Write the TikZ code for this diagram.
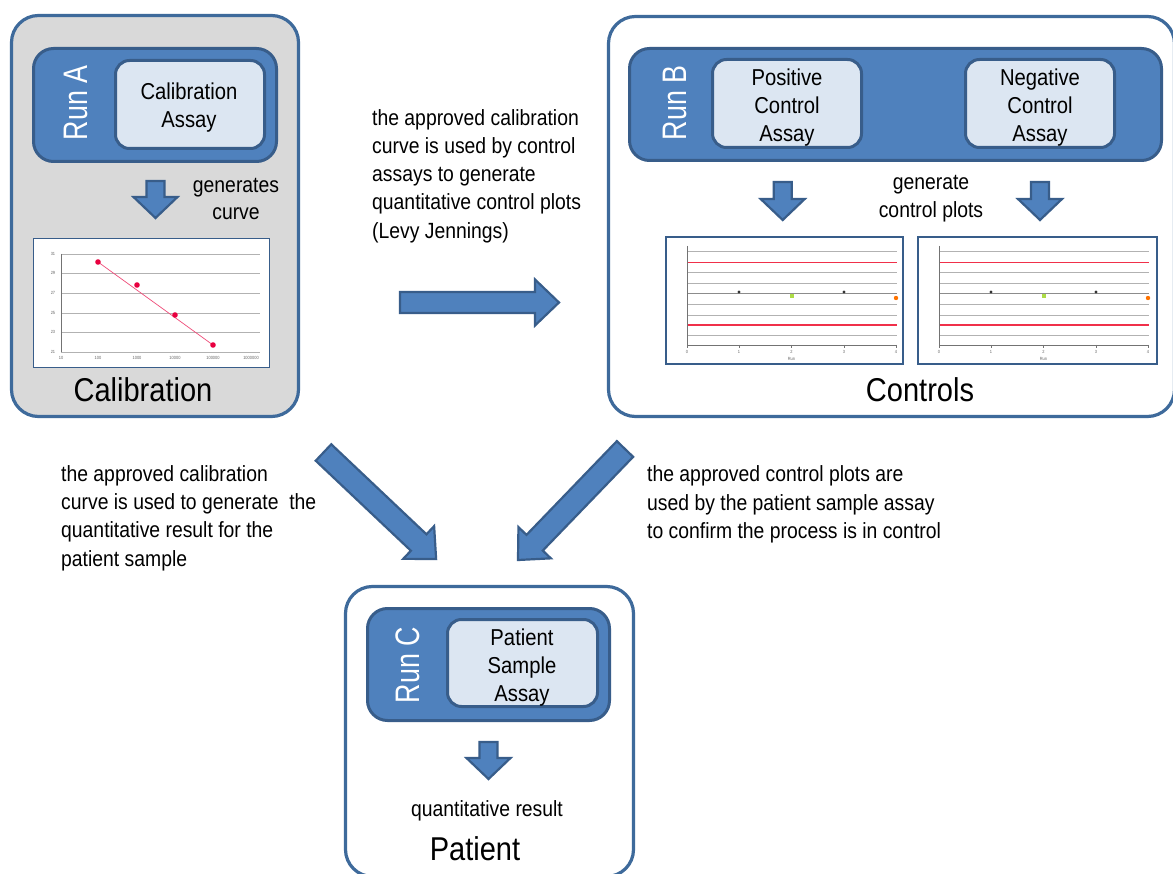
\documentclass[tikz,border=0pt]{standalone}
\usepackage{fontspec}
\setmainfont{Liberation Sans}[FakeStretch=0.88]
\newfontfamily\runfont{Liberation Sans}[FakeStretch=0.79]
\definecolor{bluefill}{HTML}{4F81BD}
\definecolor{blueline}{HTML}{385D8A}
\definecolor{outline}{HTML}{3E6A9B}
\definecolor{lightfill}{HTML}{DCE6F2}
\definecolor{grayfill}{HTML}{D9D9D9}
\definecolor{plotred}{HTML}{F0304A}
\definecolor{ptred}{HTML}{E8003F}
\tikzset{
  outerbox/.style={draw=outline, line width=3.2pt, rounded corners=27pt},
  runbox/.style={draw=blueline, fill=bluefill, line width=3pt, rounded corners=20pt},
  assaybox/.style={draw=blueline, fill=lightfill, line width=3pt, rounded corners=14pt, inner sep=0pt},
  assaytext/.style={align=center, font=\fontsize{23}{28}\selectfont, inner sep=0pt},
  runlabel/.style={rotate=90, text=white, font=\runfont\fontsize{34}{34}\selectfont, inner sep=0pt},
  chartframe/.style={draw=blueline, line width=1.3pt, fill=white, inner sep=0pt},
  blockarrow/.style={fill=bluefill, draw=blueline, line width=2.2pt, line join=miter},
  desc/.style={align=left, font=\fontsize{22}{28.3}\selectfont, inner sep=0pt},
  cdesc/.style={align=center, font=\fontsize{22}{27.5}\selectfont, inner sep=0pt},
  biglabel/.style={font=\fontsize{33}{33}\selectfont, inner sep=0pt},
  gridl/.style={draw=black!30, line width=0.8pt},
  redl/.style={draw=plotred, line width=1.3pt},
  axisl/.style={draw=black!55, line width=0.7pt},
  ticklab/.style={font=\fontsize{4.5}{5}\selectfont, text=black!60, inner sep=0pt},
}
\newcommand{\blockarr}[7]{%
  \draw[blockarrow, shift={(#1,-#2)}, rotate=#3]
    (0,-#5) -- (#4-#7,-#5) -- (#4-#7,-#6) -- (#4,0) -- (#4-#7,#6) -- (#4-#7,#5) -- (0,#5) -- cycle;}
\newcommand{\ctlplot}[2]{%
  \begin{scope}[xshift=#1pt]
    \foreach \yy in {251.7,272.7,283.3,304.3,315,335} \draw[gridl] (687,-\yy) -- (897,-\yy);
    \draw[gridl, draw=black!45] (687,-293.7) -- (897,-293.7);
    \foreach \yy in {262.3,325} \draw[redl] (687,-\yy) -- (897,-\yy);
    \draw[axisl] (687,-246) -- (687,-345) -- (897,-345);
    \foreach \xx/\lab in {687/0,739/1,791.5/2,844/3,896/4} {
      \draw[axisl] (\xx,-345) -- (\xx,-348);
      \node[ticklab] (#2x\lab) at (\xx,-352) {\lab};}
    \node[ticklab] (#2run) at (791.5,-359) {Run};
    \fill[black!80] (739,-292) circle (1.6);
    \fill[black!80] (844,-292) circle (1.6);
    \fill[yellow!60!green!80] (789.5,-298) rectangle (793.5,-294);
    \fill[orange!90!red] (896,-298) circle (2.2);
  \end{scope}}
\begin{document}
\begin{tikzpicture}[x=1pt,y=1pt]
\useasboundingbox (0,0) rectangle (1173,-874);
\fill[white] (0,0) rectangle (1173,-874);

% ---------- Calibration box ----------
\node[outerbox, fill=grayfill, minimum width=287, minimum height=401] (boxA) at (155,-216) {};
\node[runbox, minimum width=243, minimum height=113] (runA) at (155,-105) {};
\node[runlabel] (runAlab) at (76,-103) {Run A};
\node[assaybox, minimum width=149, minimum height=88] (calassay) at (190,-104.5) {};
\node[assaytext] (calassaytxt) at (189,-108) {Calibration\\Assay};
\blockarr{155.5}{181}{-90}{37}{9}{22}{21}
\node[cdesc] (gencurve) at (236,-199) {generates\\curve};
\node[chartframe, minimum width=236, minimum height=129] (calchart) at (151.5,-303) {};
\foreach \yy/\lab in {254/31,273/29,293/27,313/25,332/23,352/21} {
  \draw[gridl] (61,-\yy) -- (260,-\yy);
  \node[ticklab] (cy\lab) at (53,-\yy) {\lab};}
\draw[axisl] (61,-254) -- (61,-352);
\foreach \xx/\lab in {61/10,98/100,137/1000,175/10000,213/100000,251/1000000}
  \node[ticklab] (cx\lab) at (\xx,-358) {\lab};
\draw[ptred!70, line width=0.7pt] (98,-262) -- (213,-345);
\foreach \px/\py in {98/262,137/285,175/315,213/345}
  \fill[ptred] (\px,-\py) circle (2.8);
\node[biglabel] (callab) at (143,-390) {Calibration};

% ---------- Controls box ----------
\node[outerbox, fill=white, minimum width=566, minimum height=400] (boxB) at (891.5,-216.5) {};
\node[runbox, minimum width=532, minimum height=112] (runB) at (895.5,-104.5) {};
\node[runlabel] (runBlab) at (675,-103) {Run B};
\node[assaybox, minimum width=149, minimum height=88] (posassay) at (787,-103.5) {};
\node[assaytext] (posassaytxt) at (787,-107.5) {Positive\\Control\\Assay};
\node[assaybox, minimum width=149, minimum height=88] (negassay) at (1040,-103.5) {};
\node[assaytext] (negassaytxt) at (1040,-107.5) {Negative\\Control\\Assay};
\blockarr{782.7}{182}{-90}{38}{9}{22}{21}
\blockarr{1040}{182}{-90}{38}{9}{22}{21}
\node[cdesc] (genplots) at (931,-198.5) {generate\\control plots};
\node[chartframe, minimum width=237, minimum height=127] (plotP) at (784.5,-300.5) {};
\node[chartframe, minimum width=239, minimum height=127] (plotN) at (1037.5,-300.5) {};
\ctlplot{0}{p}
\ctlplot{252}{n}
\node[biglabel] (ctllab) at (920,-390) {Controls};

% ---------- Patient box ----------
\node[outerbox, fill=white, minimum width=288, minimum height=290] (boxC) at (489.5,-731.5) {};
\node[runbox, minimum width=242, minimum height=112] (runC) at (488.5,-664.5) {};
\node[runlabel] (runClab) at (408,-665) {Run C};
\node[assaybox, minimum width=150, minimum height=87] (patassay) at (522.5,-663) {};
\node[assaytext] (patassaytxt) at (522,-668) {Patient\\Sample\\Assay};
\blockarr{488.5}{742}{-90}{37}{9}{22}{21}
\node[cdesc] (qres) at (487,-811) {quantitative result};
\node[biglabel] (patlab) at (475,-849) {Patient};

% ---------- linking arrows and texts ----------
\node[desc, anchor=west] (midtext) at (372,-176) {the approved calibration\\curve is used by control\\assays to generate\\quantitative control plots\\(Levy Jennings)};
\blockarr{400}{302.5}{0}{159}{10.5}{23}{24}
\blockarr{323.5}{452.5}{-43.4}{155}{11.3}{22.5}{24}
\blockarr{625}{449}{226.05}{154.2}{11.3}{22.5}{24}
\node[desc, anchor=west] (lefttext) at (61,-518) {the approved calibration\\curve is used to generate\ \ the\\quantitative result for the\\patient sample};
\node[desc, anchor=west] (righttext) at (647,-504.5) {the approved control plots are\\used by the patient sample assay\\to confirm the process is in control};
\end{tikzpicture}
\end{document}
